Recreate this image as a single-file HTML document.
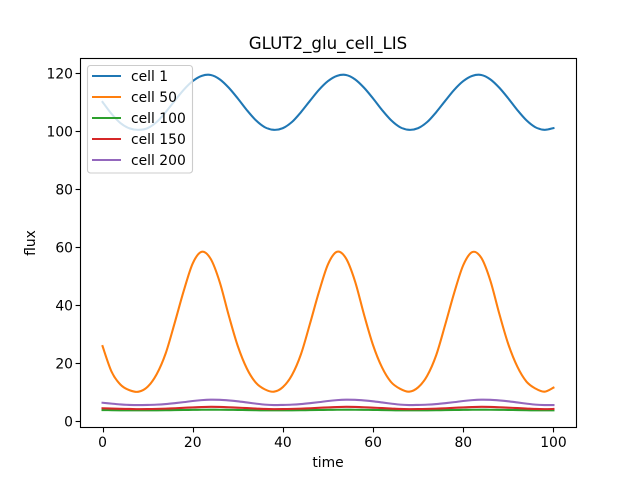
<!DOCTYPE html>
<html>
<head>
<meta charset="utf-8">
<style>
html,body{margin:0;padding:0;background:#fff;}
svg{display:block;font-family:"DejaVu Sans","Liberation Sans",sans-serif;}
</style>
</head>
<body>
<svg id="chart" width="640" height="480" viewBox="0 0 640 480" xmlns="http://www.w3.org/2000/svg">
<rect x="0" y="0" width="640" height="480" fill="#fff"/>
<g id="series"></g>
<rect x="80.5" y="58.5" width="496" height="369" fill="none" stroke="#000" stroke-width="1.11"/>
<g id="ticks"></g>
<text x="328" y="49" font-size="16.67" text-anchor="middle" fill="#000">GLUT2_glu_cell_LIS</text>
<text x="328" y="467" font-size="13.89" text-anchor="middle" fill="#000">time</text>
<text x="35" y="243" font-size="13.89" text-anchor="middle" fill="#000" transform="rotate(-90 35 243)">flux</text>
<rect x="87.5" y="65.5" width="105" height="107.5" rx="3" fill="#fff" fill-opacity="0.8" stroke="#ccc" stroke-width="1.11"/>
<g id="legend"></g>
</svg>
<script>
const times = [0,2,4,6,8,10,12,14,16,18,20,22,24,26,28,30,32,34,36,38,40,42,44,46,48,50,52,54,56,58,60,62,64,66,68,70,72,74,76,78,80,82,84,86,88,90,92,94,96,98,100];
const cell1 = [110.1,106,102.8,101,100.5,101.1,103.2,106.6,110.5,114.3,117.3,119.1,119.4,117.9,115,111.3,107.3,103.8,101.4,100.5,101.1,103.2,106.6,110.5,114.3,117.3,119.1,119.4,117.9,115,111.3,107.3,103.8,101.4,100.5,101.1,103.2,106.6,110.5,114.3,117.3,119.1,119.4,117.9,115,111.3,107.3,103.8,101.4,100.5,101.1];
const cell50 = [26,17.2,12.7,10.8,10.3,12,16.3,23.5,34,45,54.5,58.5,56,48,36.5,26,18.3,13.4,11.1,10.3,11.9,16,23.2,33.7,44.7,54.2,58.5,56.2,48.3,36.8,26.3,18.6,13.6,11.3,10.3,11.8,15.8,22.9,33.4,44.4,53.9,58.4,56.4,48.6,37.1,26.6,18.9,13.8,11.4,10.3,11.7];
const cell100 = [3.98,3.93,3.9,3.87,3.86,3.87,3.89,3.92,3.96,4,4.05,4.09,4.1,4.09,4.06,4.02,3.97,3.92,3.88,3.86,3.87,3.89,3.92,3.96,4,4.05,4.09,4.1,4.09,4.06,4.02,3.97,3.92,3.88,3.86,3.87,3.89,3.92,3.96,4,4.05,4.09,4.1,4.09,4.06,4.02,3.97,3.92,3.88,3.86,3.87];
const cell150 = [4.6,4.5,4.4,4.35,4.3,4.32,4.38,4.47,4.6,4.75,4.9,5.02,5.08,5.05,4.95,4.8,4.65,4.5,4.35,4.3,4.32,4.38,4.47,4.6,4.75,4.9,5.02,5.08,5.05,4.95,4.8,4.65,4.5,4.35,4.3,4.32,4.38,4.47,4.6,4.75,4.9,5.02,5.08,5.05,4.95,4.8,4.65,4.5,4.35,4.3,4.35];
const cell200 = [6.5,6.2,5.9,5.75,5.7,5.75,5.85,6.05,6.35,6.7,7.1,7.4,7.55,7.5,7.3,7,6.6,6.2,5.85,5.7,5.75,5.85,6.05,6.35,6.7,7.1,7.4,7.55,7.5,7.3,7,6.6,6.2,5.85,5.7,5.75,5.85,6.05,6.35,6.7,7.1,7.4,7.55,7.5,7.3,7,6.6,6.2,5.85,5.7,5.7];
const seriesNames = ["cell 1","cell 50","cell 100","cell 150","cell 200"];
const seriesValues = [cell1,cell50,cell100,cell150,cell200];
const seriesColors = ["#1f77b4","#ff7f0e","#2ca02c","#d62728","#9467bd"];
const xTickLabels = [0,20,40,60,80,100];
const yTickLabels = [0,20,40,60,80,100,120];

const NS = "http://www.w3.org/2000/svg";
function xScale(v){ return 102.55 + v * 4.509; }
function yScale(v){ return 421.6 - v * 2.903; }

function curvePath(xs, ys){
  let d = "M" + xScale(xs[0]).toFixed(2) + " " + yScale(ys[0]).toFixed(2);
  for (let i = 0; i < xs.length - 1; i++){
    const x0 = xScale(xs[Math.max(i-1,0)]), y0 = yScale(ys[Math.max(i-1,0)]);
    const x1 = xScale(xs[i]), y1 = yScale(ys[i]);
    const x2 = xScale(xs[i+1]), y2 = yScale(ys[i+1]);
    const x3 = xScale(xs[Math.min(i+2,xs.length-1)]), y3 = yScale(ys[Math.min(i+2,xs.length-1)]);
    d += " C" + (x1+(x2-x0)/6).toFixed(2) + " " + (y1+(y2-y0)/6).toFixed(2) + " " +
         (x2-(x3-x1)/6).toFixed(2) + " " + (y2-(y3-y1)/6).toFixed(2) + " " +
         x2.toFixed(2) + " " + y2.toFixed(2);
  }
  return d;
}

const seriesGroup = document.getElementById("series");
seriesValues.forEach(function(vals, i){
  const p = document.createElementNS(NS, "path");
  
  
  p.setAttribute("d", curvePath(times, vals));
  p.setAttribute("fill", "none");
  p.setAttribute("stroke", seriesColors[i]);
  p.setAttribute("stroke-width", "2.08");
  p.setAttribute("stroke-linecap", "square");
  seriesGroup.appendChild(p);
});

const tickGroup = document.getElementById("ticks");
xTickLabels.forEach(function(v){
  const px = Math.floor(xScale(v) + 0.5) + 0.5;
  const t = document.createElementNS(NS, "line");
  
  
  t.setAttribute("x1", px); t.setAttribute("x2", px);
  t.setAttribute("y1", 427.5); t.setAttribute("y2", 432.4);
  t.setAttribute("stroke", "#000"); t.setAttribute("stroke-width", "1.11");
  tickGroup.appendChild(t);
  const l = document.createElementNS(NS, "text");
  
  
  l.setAttribute("x", xScale(v)); l.setAttribute("y", 447);
  l.setAttribute("font-size", "13.89"); l.setAttribute("text-anchor", "middle");
  l.textContent = v;
  tickGroup.appendChild(l);
});
yTickLabels.forEach(function(v){
  const py = Math.floor(yScale(v)) + 0.5;
  const t = document.createElementNS(NS, "line");
  
  
  t.setAttribute("x1", 75.6); t.setAttribute("x2", 80.5);
  t.setAttribute("y1", py); t.setAttribute("y2", py);
  t.setAttribute("stroke", "#000"); t.setAttribute("stroke-width", "1.11");
  tickGroup.appendChild(t);
  const l = document.createElementNS(NS, "text");
  
  
  l.setAttribute("x", 73); l.setAttribute("y", py + 5);
  l.setAttribute("font-size", "13.89"); l.setAttribute("text-anchor", "end");
  l.textContent = v;
  tickGroup.appendChild(l);
});

const legendGroup = document.getElementById("legend");
seriesNames.forEach(function(name, i){
  const rowY = 76 + i * 21;
  const h = document.createElementNS(NS, "line");
  
  
  h.setAttribute("x1", 92); h.setAttribute("x2", 121);
  h.setAttribute("y1", rowY); h.setAttribute("y2", rowY);
  h.setAttribute("stroke", seriesColors[i]); h.setAttribute("stroke-width", "2.08");
  legendGroup.appendChild(h);
  const l = document.createElementNS(NS, "text");
  
  
  l.setAttribute("x", 131); l.setAttribute("y", rowY + 5);
  l.setAttribute("font-size", "13.89");
  l.textContent = name;
  legendGroup.appendChild(l);
});
</script>
</body>
</html>
